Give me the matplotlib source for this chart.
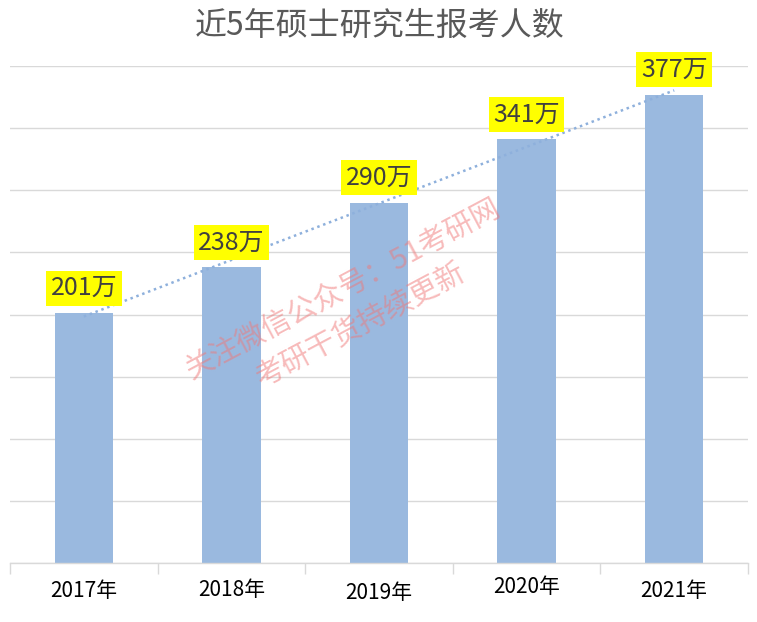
import matplotlib
matplotlib.use("Agg")
import matplotlib.pyplot as plt
import numpy as np

plt.rcParams['font.family'] = ['Noto Sans CJK SC', 'DejaVu Sans']

years = ['2017年', '2018年', '2019年', '2020年', '2021年']
values = [201, 238, 290, 341, 377]
value_labels = ['201万', '238万', '290万', '341万', '377万']
title = '近5年硕士研究生报考人数'
watermark1 = '关注微信公众号：51考研网'
watermark2 = '考研干货持续更新'

W, H = 757, 622
fig = plt.figure(figsize=(W/100, H/100), dpi=100)
ax = fig.add_axes([10/W, 1-563/H, 738/W, (563-66)/H])

x = np.arange(len(values))
ax.bar(x, values, width=0.395, color='#9ab9df', zorder=2)
ax.set_xlim(-0.5, len(values)-0.5)
ax.set_ylim(0, 400)
ax.set_yticks(np.arange(0, 401, 50))
ax.yaxis.grid(True, color='#d9d9d9', linewidth=1, zorder=0)
ax.set_axisbelow(True)
for s in ['top', 'right', 'left']:
    ax.spines[s].set_visible(False)
ax.spines['bottom'].set_color('#d9d9d9')
ax.spines['bottom'].set_linewidth(1)
ax.tick_params(axis='y', length=0, labelleft=False)
ax.set_xticks(np.arange(-0.5, len(values)), minor=False)
ax.tick_params(axis='x', length=8, color='#d9d9d9', width=1, labelbottom=False)

# trend line
coef = np.polyfit(x, values, 1)
ax.plot(x, np.polyval(coef, x), linestyle=(0, (1, 1.5)), color='#8eb0dc', linewidth=1.8, zorder=3)

# value labels
for xi, v, lab in zip(x, values, value_labels):
    ax.annotate(lab, (xi, v), xytext=(0, 12), textcoords='offset pixels',
                ha='center', va='bottom', fontsize=18, color='#404040',
                bbox=dict(boxstyle='square,pad=0.18', facecolor='#ffff00', edgecolor='none'),
                zorder=5)

# x labels
offsets = [0, 1, -2, 4, 0]
for xi, lab, off in zip(x, years, offsets):
    ax.annotate(lab, (xi, 0), xytext=(0, -28 + off), textcoords='offset pixels',
                ha='center', va='center', fontsize=15, color='black',
                xycoords=('data', 'axes fraction'))

fig.text(380/W, 1-26/H, title, ha='center', va='center', fontsize=23, color='#595959')

fig.text(343/W, 1-290/H, watermark1, ha='center', va='center', fontsize=21,
         color='#f07878', alpha=0.5, rotation=28, fontweight='medium', zorder=10)
fig.text(361/W, 1-325/H, watermark2, ha='center', va='center', fontsize=21,
         color='#f07878', alpha=0.5, rotation=28, fontweight='medium', zorder=10)

fig.savefig('out.png', dpi=100)
